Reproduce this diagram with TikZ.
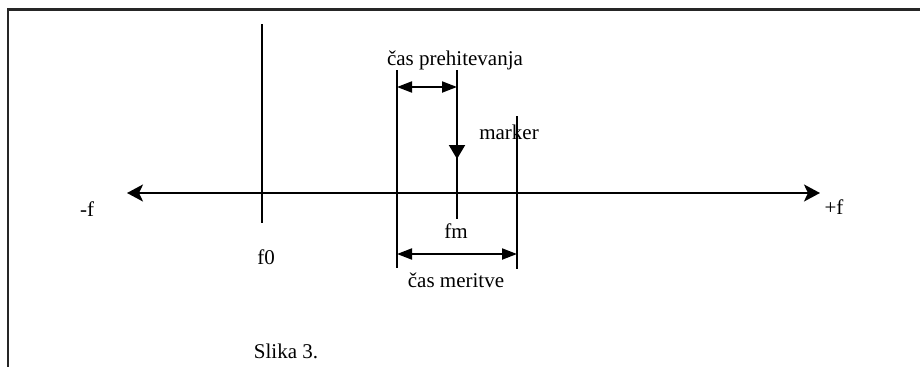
\documentclass[tikz,border=0pt]{standalone}
\usepackage{fontspec}
\setmainfont{Liberation Serif}
\usetikzlibrary{arrows.meta}
\begin{document}
\begin{tikzpicture}[x=1pt,y=-1pt,
  lbl/.style={inner sep=0pt,font=\fontsize{21}{24}\selectfont},
  bar/.style={line width=2pt,line cap=butt},
  axisline/.style={line width=2pt,{Stealth[length=16pt,width=17pt,inset=4pt]}-{Stealth[length=16pt,width=17pt,inset=4pt]}},
  span/.style={line width=2pt,{Triangle[length=15pt,width=11pt]}-{Triangle[length=15pt,width=11pt]}},
  frameline/.style={line width=2.2pt,draw=black!85}]
  \useasboundingbox (0,0) rectangle (920,367);
  % open frame: top and left edges
  \draw[frameline] (920,9.5) -- (8,9.5) -- (8,367);

  % frequency axis
  \coordinate (axL) at (127,193);
  \coordinate (axR) at (820,193);
  \draw[axisline] (axL) -- (axR);
  \node[lbl] (mf) at (87,209) {-f};
  \node[lbl] (pf) at (834,207) {+f};

  % f0
  \coordinate (f0t) at (262,24);
  \coordinate (f0b) at (262,223);
  \draw[bar] (f0t) -- (f0b);
  \node[lbl] (f0) at (266,257) {f0};

  % window start
  \coordinate (wst) at (397,70);
  \coordinate (wsb) at (397,268);
  \draw[bar] (wst) -- (wsb);

  % fm line with arrowhead
  \coordinate (fmt) at (457,70);
  \coordinate (fmh) at (457,159);
  \coordinate (fmb) at (457,219);
  \draw[bar] (fmt) -- (fmb);
  \draw[line width=2pt,-{Triangle[length=14pt,width=16pt]}] (fmt) -- (fmh);
  \node[lbl] (fm) at (456,231) {fm};

  % marker
  \coordinate (mkt) at (517,116);
  \coordinate (mkb) at (517,269);
  \draw[bar] (mkt) -- (mkb);
  \node[lbl] (mk) at (509,132) {marker};

  % spans
  \coordinate (pa) at (397,87);
  \coordinate (pb) at (457,87);
  \draw[span] (pa) -- (pb);
  \node[lbl] (pre) at (455,60) {čas prehitevanja};

  \coordinate (ma) at (397,254);
  \coordinate (mb) at (517,254);
  \draw[span] (ma) -- (mb);
  \node[lbl] (mer) at (456,280) {čas meritve};

  \node[lbl] (cap) at (286,351) {Slika 3.};
\end{tikzpicture}
\end{document}
